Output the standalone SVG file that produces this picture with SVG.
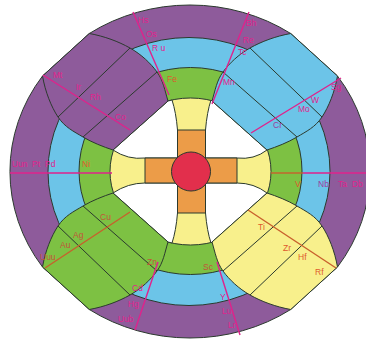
<svg xmlns="http://www.w3.org/2000/svg" width="366" height="341" viewBox="0 0 366 341">
<style>
.ring{stroke:#2b3a2e;stroke-width:1}
.edge{stroke:#2b3a2e;stroke-width:1;fill:none}
.pk{stroke:#e0228c;stroke-width:1.4;fill:none}
.br{stroke:#c8602c;stroke-width:1.4;fill:none}
text{font-family:"Liberation Sans",Arial,sans-serif;font-size:8.5px}
.tp{fill:#e0228c}
.to{fill:#de5a2c}
.tb{fill:#c2553a}
.tv{fill:#9c3c9c}
</style>
<defs>
<path id="petal" d="M42.5,76 C45.3,92 51.3,106.8 58,117 C64.7,127.2 73.8,131.5 83,137 C92.2,142.5 103,146.7 113,150 L168,101 C164.7,90 163.3,80.7 157,72 C150.7,63.3 141.3,54.4 130,48 C118.7,41.6 104.3,36.2 89.3,33.5 Z" stroke="#2b3a2e" stroke-width="1"/>
<path id="petal-lines" d="M58,117 L130,48 M83,137 L157,72" stroke="#2b3a2e" stroke-width="1" fill="none"/>
</defs>
<rect width="366" height="341" fill="#ffffff"/>
<g id="ring-period7">
<path class="ring" fill="#8e5b9b" d="M337.5,76 A180,166.5 0 0 1 337.5,267 L290.7,309.5 A180,166.5 0 0 1 89.3,309.5 L42.5,267 A180,166.5 0 0 1 42.5,76 L89.3,33.5 A180,166.5 0 0 1 290.7,33.5 Z"/>
</g>
<g id="ring-period6"><ellipse class="ring" cx="189" cy="171.5" rx="141" ry="134" fill="#6cc4e8"/></g>
<g id="ring-period5"><ellipse class="ring" cx="190.5" cy="171" rx="111.5" ry="103.5" fill="#7dc143"/></g>
<g id="ring-period4"><ellipse class="ring" cx="190.5" cy="171.5" rx="80.5" ry="73.5" fill="#f8f08c"/></g>
<g id="gaps">
<path class="ring" fill="#ffffff" d="M113,150 Q128,160 145,158 L177.5,158 L177.5,130 Q176,112 172,100 L168,101 Z"/>
<path class="ring" fill="#ffffff" d="M113,193 Q128,183 145,183 L177.5,183 L177.5,213 Q176,231 172,243 L168,242 Z"/>
<path class="ring" fill="#ffffff" d="M267,150 Q254,160 237,158 L205.5,158 L205.5,130 Q207,112 211,100 L212,101 Z"/>
<path class="ring" fill="#ffffff" d="M267,193 Q254,183 237,183 L205.5,183 L205.5,213 Q207,231 211,243 L212,242 Z"/>
</g>
<g id="core-cross">
<path class="ring" fill="#ec9c48" d="M177.5,130 L205.5,130 L205.5,158 L237,158 L237,183 L205.5,183 L205.5,213 L177.5,213 L177.5,183 L145,183 L145,158 L177.5,158 Z"/>
</g>
<g id="core"><circle class="ring" cx="191" cy="171.5" r="19.5" fill="#e22f4c"/></g>
<g id="petal-tl" fill="#8e5b9b"><use href="#petal"/><use href="#petal-lines"/></g>
<g id="petal-tr" fill="#6cc4e8" transform="translate(380,0) scale(-1,1)"><use href="#petal"/><use href="#petal-lines"/></g>
<g id="petal-bl" fill="#7dc143" transform="translate(0,343) scale(1,-1)"><use href="#petal"/><use href="#petal-lines"/></g>
<g id="petal-br" fill="#f8f08c" transform="translate(380,343) scale(-1,-1)"><use href="#petal"/><use href="#petal-lines"/></g>
<g id="connectors">
<path class="pk" d="M133,12 L169,95"/>
<path class="pk" d="M249,12 L212,104"/>
<path class="pk" d="M10,173 L112,173"/>
<path class="br" d="M271,173 L303,173"/>
<path class="pk" d="M303,173 L366,173"/>
<path class="pk" d="M43,75 L130,130"/>
<path class="pk" d="M251,133 L341,78"/>
<path class="br" d="M45,268 L130,212"/>
<path class="br" d="M248,210 L336,268"/>
<path class="pk" d="M158,262 L135,330"/>
<path class="pk" d="M217,262 L240,335"/>
</g>
<g id="labels">
<text class="tp" x="138" y="23">Hs</text>
<text class="tp" x="146" y="37">Os</text>
<text class="tp" x="152" y="51">R u</text>
<text class="to" x="167" y="82">Fe</text>
<text class="tp" x="53" y="78">Mt</text>
<text class="tp" x="76" y="90">Ir</text>
<text class="tp" x="90" y="100">Rh</text>
<text class="tp" x="115" y="120">Co</text>
<text class="tp" x="12" y="167">Uun</text>
<text class="tp" x="32" y="167">Pt</text>
<text class="tp" x="45" y="167">Pd</text>
<text class="to" x="82" y="167">Ni</text>
<text class="tp" x="246" y="26">Bh</text>
<text class="tp" x="243" y="43">Re</text>
<text class="tp" x="238" y="55">Tc</text>
<text class="tp" x="223" y="85">Mn</text>
<text class="tp" x="331" y="90">Sg</text>
<text class="tp" x="311" y="103">W</text>
<text class="tp" x="298" y="112">Mo</text>
<text class="tv" x="273" y="128">Cr</text>
<text class="to" x="295" y="187">V</text>
<text class="tv" x="318" y="187">Nb</text>
<text class="tp" x="338" y="187">Ta</text>
<text class="tp" x="352" y="187">Db</text>
<text class="tb" x="40" y="260">Uuu</text>
<text class="tb" x="60" y="248">Au</text>
<text class="tb" x="73" y="238">Ag</text>
<text class="tb" x="100" y="220">Cu</text>
<text class="tb" x="147" y="265">Zn</text>
<text class="tp" x="132" y="291">Cd</text>
<text class="tp" x="128" y="307">Hg</text>
<text class="tp" x="118" y="322">Uub</text>
<text class="to" x="258" y="230">Ti</text>
<text class="to" x="283" y="251">Zr</text>
<text class="to" x="298" y="260">Hf</text>
<text class="to" x="315" y="275">Rf</text>
<text class="tb" x="203" y="270">Sc</text>
<text class="tp" x="220" y="300">Y</text>
<text class="tp" x="222" y="314">Lu</text>
<text class="tp" x="228" y="328">Lr</text>
</g>
</svg>
